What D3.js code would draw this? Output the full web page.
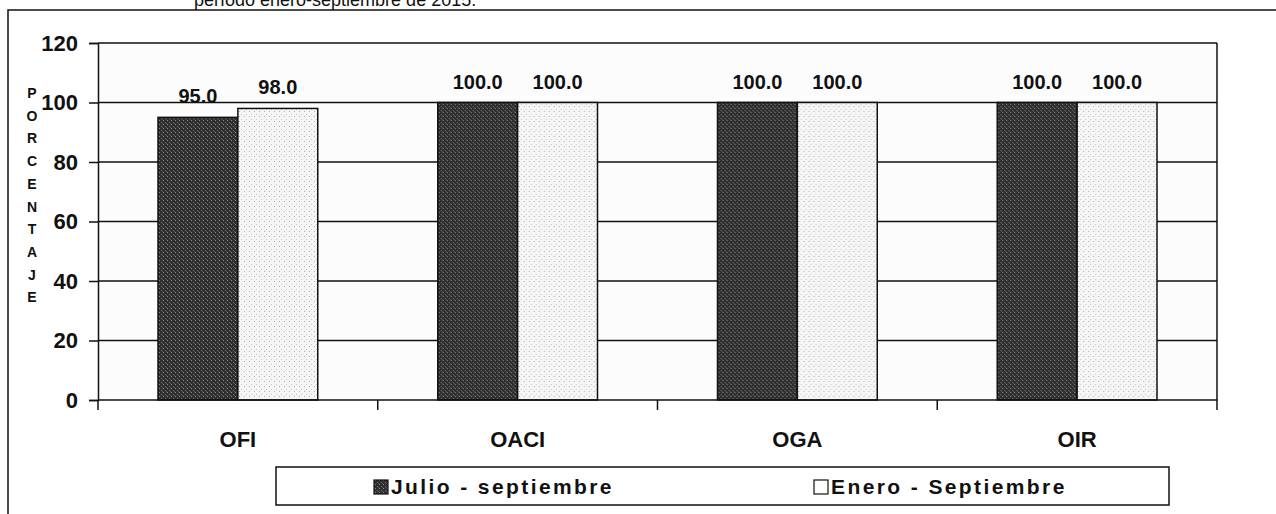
<!DOCTYPE html>
<html>
<head>
<meta charset="utf-8">
<script src="https://cdn.jsdelivr.net/npm/d3@7"></script>
<style>
  body { margin: 0; background: #fff; }
  svg { display: block; }
</style>
</head>
<body>
<script>
// data
const categories = ["OFI", "OACI", "OGA", "OIR"];
const seriesNames = ["Julio - septiembre", "Enero - Septiembre"];
const julioSept = [95.0, 100.0, 100.0, 100.0];
const eneroSept = [98.0, 100.0, 100.0, 100.0];
const yTicks = [0, 20, 40, 60, 80, 100, 120];
const axisTitle = "PORCENTAJE";
const topText = "período enero-septiembre de 2015.";

const W = 1276, H = 514;
const font = "'Liberation Sans', Arial, sans-serif";
const ink = "#111";

const svg = d3.select("body").append("svg")
  .attr("width", W)
  .attr("height", H);

// textures that imitate the scanned grey fills
const defs = svg.append("defs");
const dark = defs.append("pattern").attr("id", "darkTex")
  .attr("width", 4).attr("height", 4).attr("patternUnits", "userSpaceOnUse");
dark.append("rect").attr("width", 4).attr("height", 4).attr("fill", "#2f2f2f");
dark.append("rect").attr("x", 1).attr("y", 0).attr("width", 1).attr("height", 1).attr("fill", "#8a8a8a");
dark.append("rect").attr("x", 3).attr("y", 2).attr("width", 1).attr("height", 1).attr("fill", "#6a6a6a");
dark.append("rect").attr("x", 0).attr("y", 3).attr("width", 1).attr("height", 1).attr("fill", "#555");

const light = defs.append("pattern").attr("id", "lightTex")
  .attr("width", 5).attr("height", 5).attr("patternUnits", "userSpaceOnUse");
light.append("rect").attr("width", 5).attr("height", 5).attr("fill", "#f5f5f5");
light.append("rect").attr("x", 1).attr("y", 1).attr("width", 1).attr("height", 1).attr("fill", "#b0b0b0");
light.append("rect").attr("x", 3).attr("y", 4).attr("width", 1).attr("height", 1).attr("fill", "#c8c8c8");

// outer frame (cut off at the right and bottom like the scan)
svg.append("rect")
  .attr("x", 8).attr("y", 10)
  .attr("width", W + 20).attr("height", H + 20)
  .attr("fill", "none")
  .attr("stroke", ink)
  .attr("stroke-width", 1.5);

// caption text cut at the top, as in the scan
svg.append("text")
  .attr("x", 194).attr("y", 6)
  .attr("font-family", font)
  .attr("font-size", "18px")
  .attr("fill", ink)
  .text(topText);

const plotL = 98, plotR = 1217, plotT = 43, plotB = 400;

const x0 = d3.scaleBand().domain(categories).range([plotL, plotR]);
const x1 = d3.scaleBand().domain(seriesNames).range([60, x0.bandwidth() - 60]);
const y = d3.scaleLinear().domain([0, 120]).range([plotB, plotT]);

// plot background
svg.append("rect")
  .attr("x", plotL).attr("y", plotT)
  .attr("width", plotR - plotL).attr("height", plotB - plotT)
  .attr("fill", "#fcfcfc");

// gridlines
svg.append("g").selectAll("line")
  .data(yTicks.filter(d => d > 0))
  .join("line")
  .attr("x1", plotL).attr("x2", plotR)
  .attr("y1", d => y(d)).attr("y2", d => y(d))
  .attr("stroke", ink)
  .attr("stroke-width", 1.5);

// right border of plot
svg.append("line")
  .attr("x1", plotR).attr("x2", plotR)
  .attr("y1", plotT).attr("y2", plotB)
  .attr("stroke", ink).attr("stroke-width", 1.5);

const rows = categories.map((c, i) => ({
  cat: c,
  vals: [
    { s: seriesNames[0], v: julioSept[i] },
    { s: seriesNames[1], v: eneroSept[i] }
  ]
}));

const groups = svg.append("g").selectAll("g")
  .data(rows)
  .join("g")
  .attr("transform", d => `translate(${x0(d.cat)},0)`);

groups.selectAll("rect")
  .data(d => d.vals)
  .join("rect")
  .attr("x", d => x1(d.s))
  .attr("y", d => y(d.v))
  .attr("width", x1.bandwidth())
  .attr("height", d => y(0) - y(d.v))
  .attr("fill", d => d.s === seriesNames[0] ? "url(#darkTex)" : "url(#lightTex)")
  .attr("stroke", ink)
  .attr("stroke-width", 1.5);

groups.selectAll("text")
  .data(d => d.vals)
  .join("text")
  .attr("x", d => x1(d.s) + x1.bandwidth() / 2)
  .attr("y", d => y(d.v) - 14)
  .attr("text-anchor", "middle")
  .attr("font-family", font)
  .attr("font-weight", "bold")
  .attr("font-size", "20px")
  .attr("fill", ink)
  .text(d => d3.format(".1f")(d.v));

// y axis
const yAxis = svg.append("g")
  .attr("transform", `translate(${plotL},0)`)
  .call(d3.axisLeft(y).tickValues(yTicks).tickSize(9).tickPadding(11));
yAxis.selectAll("line").attr("stroke", ink).attr("stroke-width", 1.5);
yAxis.select(".domain").attr("stroke", ink).attr("stroke-width", 1.5);
yAxis.selectAll("text")
  .attr("font-family", font)
  .attr("font-weight", "bold")
  .attr("font-size", "22px")
  .attr("fill", ink);

// x axis
const xAxis = svg.append("g")
  .attr("transform", `translate(0,${plotB})`)
  .call(d3.axisBottom(x0).tickSize(0).tickPadding(31));
xAxis.select(".domain").remove();
xAxis.selectAll("text")
  .attr("font-family", font)
  .attr("font-weight", "bold")
  .attr("font-size", "22px")
  .attr("fill", ink);

svg.append("line")
  .attr("x1", plotL).attr("x2", plotR)
  .attr("y1", plotB).attr("y2", plotB)
  .attr("stroke", ink).attr("stroke-width", 1.5);

const bounds = categories.map(c => x0(c)).concat([plotR]);
svg.append("g").selectAll("line")
  .data(bounds)
  .join("line")
  .attr("x1", d => d).attr("x2", d => d)
  .attr("y1", plotB).attr("y2", plotB + 10)
  .attr("stroke", ink).attr("stroke-width", 1.5);

// vertical axis title, one letter per line
svg.append("g").selectAll("text")
  .data(axisTitle.split(""))
  .join("text")
  .attr("x", 32)
  .attr("y", (d, i) => 98 + i * 22.7)
  .attr("text-anchor", "middle")
  .attr("font-family", font)
  .attr("font-weight", "bold")
  .attr("font-size", "14px")
  .attr("fill", ink)
  .text(d => d);

// legend
svg.append("rect")
  .attr("x", 276).attr("y", 467)
  .attr("width", 1169 - 276).attr("height", 38)
  .attr("fill", "#fff")
  .attr("stroke", ink)
  .attr("stroke-width", 1.5);

const legendItems = [
  { name: seriesNames[0], fill: "url(#darkTex)", x: 374 },
  { name: seriesNames[1], fill: "#fff", x: 814 }
];
const leg = svg.append("g").selectAll("g")
  .data(legendItems)
  .join("g")
  .attr("transform", d => `translate(${d.x},0)`);
leg.append("rect")
  .attr("x", 0).attr("y", 480)
  .attr("width", 14).attr("height", 14)
  .attr("fill", d => d.fill)
  .attr("stroke", ink)
  .attr("stroke-width", 1.2);
leg.append("text")
  .attr("x", 17).attr("y", 494)
  .attr("font-family", font)
  .attr("font-weight", "bold")
  .attr("font-size", "21px")
  .attr("letter-spacing", "2.4px")
  .attr("fill", ink)
  .text(d => d.name);
</script>
</body>
</html>
